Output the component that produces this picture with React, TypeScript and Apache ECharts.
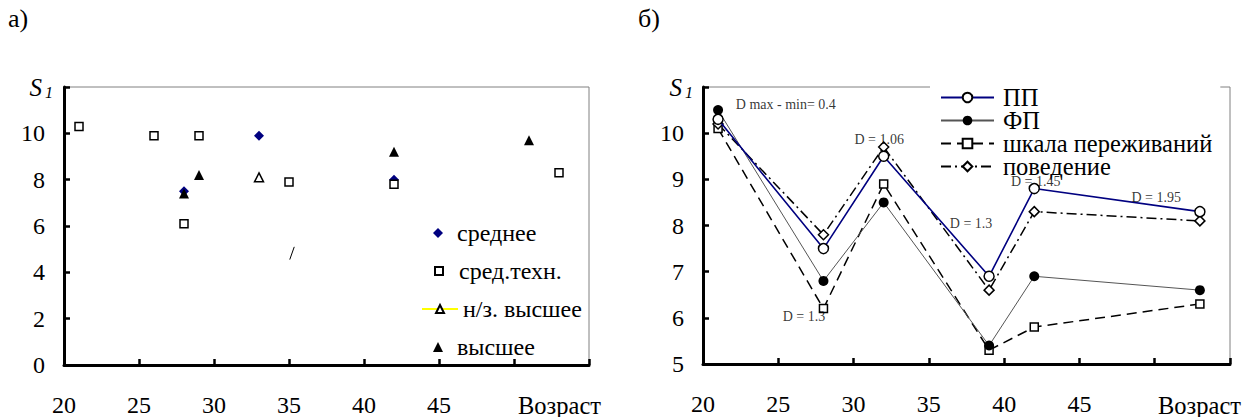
import React, { useEffect, useRef } from "react";
import * as echarts from "echarts";

// ---- Chart а) ----
const avgPoints = [[28, 7.5], [33, 9.9], [42, 8.0]];
const secTechPoints = [[21, 10.3], [26, 9.9], [28, 6.1], [29, 9.9], [35, 7.9], [42, 7.8], [53, 8.3]];
const incompleteHigherPoints = [[33, 8.1]];
const higherPoints = [[28, 7.4], [29, 8.2], [42, 9.2], [51, 9.7]];
const strayStroke = [[35.05, 4.55], [35.35, 5.1]];
const leftNames = ["среднее", "сред.техн.", "н/з. высшее", "высшее"];

// ---- Chart б) ----
const ages = [21, 28, 32, 39, 42, 53];
const ppValues = [10.3, 7.5, 9.5, 6.9, 8.8, 8.3];
const fpValues = [10.5, 6.8, 8.5, 5.4, 6.9, 6.6];
const scaleValues = [10.1, 6.2, 8.9, 5.3, 5.8, 6.3];
const behaviorValues = [10.2, 7.8, 9.7, 6.6, 8.3, 8.1];
const rightNames = ["ПП", "ФП", "шкала переживаний", "поведение"];
const annotationTexts = ["D max - min= 0.4", "D = 1.06", "D = 1.3", "D = 1.3", "D = 1.45", "D = 1.95"];
const annotationX = [25.5, 31.7, 26.7, 37.8, 42.1, 50.1];
const annotationY = [10.63, 9.87, 6.02, 8.04, 8.96, 8.6];

const FONT = "Liberation Serif, serif";

const pairs = (xs: number[], ys: number[]) => xs.map((x, i) => [x, ys[i]]);

export default function App() {
  const ref = useRef<HTMLDivElement>(null);
  useEffect(() => {
    const chart = echarts.init(ref.current!, null, { renderer: "svg" });
    const axisLine = { show: true, lineStyle: { color: "#000", width: 3 } };
    const axisTick = { show: true, inside: true, length: 6, lineStyle: { color: "#000", width: 2.5 } };
    const axisLabelStyle = { color: "#000", fontFamily: FONT, fontSize: 24 };
    const s1Name = (pad: number) => ({
      name: "{s|S}{n|1}",
      nameLocation: "end" as const,
      nameGap: 0,
      nameTextStyle: {
        align: "right",
        verticalAlign: "middle",
        padding: [0, pad, 0, 0],
        fontFamily: FONT,
        rich: {
          s: { fontFamily: FONT, fontStyle: "italic", fontSize: 25, color: "#000" },
          n: { fontFamily: FONT, fontStyle: "italic", fontSize: 16, color: "#000", verticalAlign: "bottom", padding: [10, 0, 0, 3] },
        },
      },
    });
    const xAxisBase = {
      type: "value" as const,
      min: 20,
      max: 55,
      interval: 5,
      axisLine,
      axisTick,
      splitLine: { show: false },
      axisLabel: { ...axisLabelStyle, margin: 28, formatter: (v: number) => (v >= 50 ? "" : String(v)) },
    };
    const openStyle = { color: "#fff", borderColor: "#000", borderWidth: 1.5, opacity: 1 };
    const textG = (x: number, y: number, text: string, size: number) => ({
      type: "text",
      x,
      y,
      style: { text, fontFamily: FONT, fontSize: size, fill: "#000", verticalAlign: "middle" },
    });
    const leftLegendText = { fontFamily: FONT, fontSize: 24, lineHeight: 23, color: "#000" };
    const scatterLegend = (names: string[], top: number, size: number) => ({
      data: names,
      orient: "vertical",
      left: 433 - size / 2,
      top,
      itemWidth: size,
      itemHeight: size,
      itemGap: 15,
      textStyle: { ...leftLegendText, padding: [0, 0, 0, 19 - size] },
    });

    chart.setOption({
      animation: false,
      textStyle: { fontFamily: FONT },
      grid: [
        { left: 64, top: 87, width: 525, height: 278, show: true, borderColor: "#808080", borderWidth: 1 },
        { left: 703, top: 87, width: 527, height: 277, show: true, borderColor: "#808080", borderWidth: 1 },
      ],
      xAxis: [
        { ...xAxisBase, gridIndex: 0 },
        { ...xAxisBase, gridIndex: 1 },
      ],
      yAxis: [
        {
          type: "value",
          gridIndex: 0,
          min: 0,
          max: 12,
          interval: 2,
          axisLine,
          axisTick,
          splitLine: { show: false },
          axisLabel: { ...axisLabelStyle, margin: 19, formatter: (v: number) => (v >= 12 ? "" : String(v)) },
          ...s1Name(11),
        },
        {
          type: "value",
          gridIndex: 1,
          min: 5,
          max: 11,
          interval: 1,
          axisLine,
          axisTick,
          splitLine: { show: false },
          axisLabel: { ...axisLabelStyle, margin: 19, formatter: (v: number) => (v >= 11 ? "" : String(v)) },
          ...s1Name(10),
        },
      ],
      legend: [
        scatterLegend([leftNames[0]], 216, 10),
        scatterLegend([leftNames[1]], 254, 8),
        {
          data: [leftNames[2]],
          orient: "vertical",
          left: 416,
          top: 292,
          itemWidth: 36,
          itemHeight: 10,
          textStyle: leftLegendText,
        },
        scatterLegend([leftNames[3]], 330, 10),
        {
          data: rightNames,
          orient: "vertical",
          left: 930,
          top: 81,
          padding: [4, 8, 0, 10],
          backgroundColor: "#fff",
          itemWidth: 53,
          itemHeight: 12,
          itemGap: -2,
          textStyle: { fontFamily: FONT, fontSize: 24.5, lineHeight: 22, color: "#000", padding: [0, 0, 0, 4] },
        },
      ],
      graphic: [
        { type: "text", left: 8, top: 5, style: { text: "а)", fontFamily: FONT, fontSize: 26, fill: "#000" } },
        { type: "text", left: 638, top: 5, style: { text: "б)", fontFamily: FONT, fontSize: 26, fill: "#000" } },
        textG(518, 405, "Возраст", 24.5),
        textG(1158, 405, "Возраст", 24.5),
      ],
      series: [
        {
          name: leftNames[0],
          type: "scatter",
          xAxisIndex: 0,
          yAxisIndex: 0,
          symbol: "diamond",
          symbolSize: 10,
          itemStyle: { color: "#000080", opacity: 1 },
          data: avgPoints,
        },
        {
          name: leftNames[1],
          type: "scatter",
          xAxisIndex: 0,
          yAxisIndex: 0,
          symbol: "rect",
          symbolSize: 8,
          itemStyle: openStyle,
          data: secTechPoints,
        },
        {
          name: leftNames[2],
          type: "line",
          xAxisIndex: 0,
          yAxisIndex: 0,
          symbol: "triangle",
          symbolSize: 9,
          showSymbol: true,
          lineStyle: { color: "#ffff00", width: 2 },
          itemStyle: openStyle,
          data: incompleteHigherPoints,
        },
        {
          name: leftNames[3],
          type: "scatter",
          xAxisIndex: 0,
          yAxisIndex: 0,
          symbol: "triangle",
          symbolSize: 10,
          itemStyle: { color: "#000", opacity: 1 },
          data: higherPoints,
        },
        {
          name: "stroke",
          type: "line",
          xAxisIndex: 0,
          yAxisIndex: 0,
          symbol: "none",
          lineStyle: { color: "#000", width: 1 },
          data: strayStroke,
          silent: true,
        },
        {
          name: rightNames[0],
          type: "line",
          xAxisIndex: 1,
          yAxisIndex: 1,
          symbol: "circle",
          symbolSize: 10,
          lineStyle: { color: "#000080", width: 1.6 },
          itemStyle: openStyle,
          data: pairs(ages, ppValues),
          z: 5,
        },
        {
          name: rightNames[1],
          type: "line",
          xAxisIndex: 1,
          yAxisIndex: 1,
          symbol: "circle",
          symbolSize: 10,
          lineStyle: { color: "#555", width: 1 },
          itemStyle: { color: "#000" },
          data: pairs(ages, fpValues),
          z: 4,
        },
        {
          name: rightNames[2],
          type: "line",
          xAxisIndex: 1,
          yAxisIndex: 1,
          symbol: "rect",
          symbolSize: 8,
          lineStyle: { color: "#000", width: 1.5, type: [10, 6] },
          itemStyle: openStyle,
          data: pairs(ages, scaleValues),
          z: 3,
        },
        {
          name: rightNames[3],
          type: "line",
          xAxisIndex: 1,
          yAxisIndex: 1,
          symbol: "diamond",
          symbolSize: 10,
          lineStyle: { color: "#000", width: 1.5, type: [10, 4, 2, 4] },
          itemStyle: openStyle,
          data: pairs(ages, behaviorValues),
          z: 3,
        },
        {
          name: "annotations",
          type: "scatter",
          xAxisIndex: 1,
          yAxisIndex: 1,
          symbolSize: 0,
          silent: true,
          z: 6,
          label: {
            show: true,
            position: "inside",
            formatter: "{b}",
            color: "#000",
            fontFamily: FONT,
            fontSize: 14,
          },
          data: annotationTexts.map((t, i) => ({ name: t, value: [annotationX[i], annotationY[i]] })),
        },
      ],
    });
    return () => chart.dispose();
  }, []);
  return <div ref={ref} style={{ position: "absolute", left: 0, top: 0, width: 1245, height: 417, background: "#fff" }} />;
}
